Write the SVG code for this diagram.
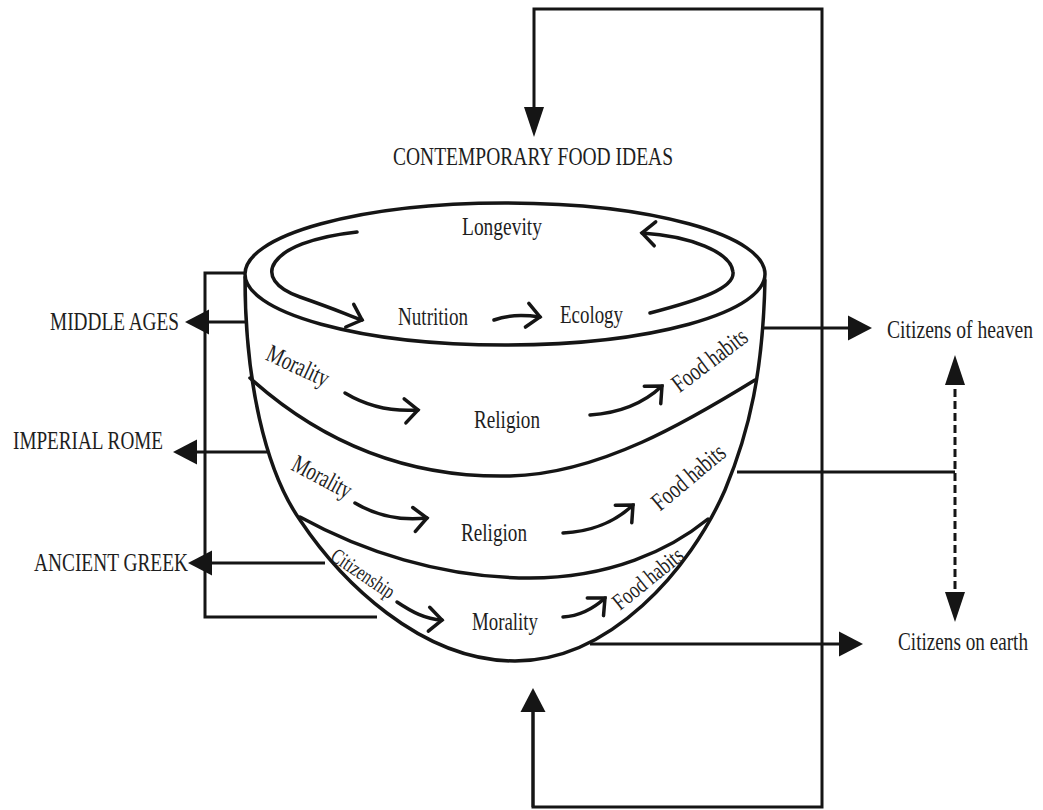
<svg xmlns="http://www.w3.org/2000/svg" width="1043" height="810" viewBox="0 0 1043 810">
<style>
.ln{fill:none;stroke:#151515;stroke-width:3.5;stroke-linejoin:round;stroke-linecap:round}
.cn{fill:none;stroke:#151515;stroke-width:3;stroke-linejoin:miter}
.ca{fill:none;stroke:#151515;stroke-width:3.5;stroke-linecap:round;marker-end:url(#chev)}
.t{font-family:"Liberation Serif","Times New Roman",serif;font-size:19.5px;fill:#1e1e1e}
</style>
<defs>
<marker id="chev" markerUnits="userSpaceOnUse" markerWidth="40" markerHeight="40" viewBox="-20 -20 40 40" refX="0" refY="0" orient="auto" overflow="visible">
<path d="M-13,-12 L0,0 L-13,12" fill="none" stroke="#151515" stroke-width="3.5" stroke-linecap="round" stroke-linejoin="miter"/>
</marker>
<marker id="tri" markerUnits="userSpaceOnUse" markerWidth="40" markerHeight="40" viewBox="0 -20 40 40" refX="14" refY="0" orient="auto-start-reverse" overflow="visible">
<path d="M0,-12.5 L24,0 L0,12.5 Z" fill="#151515"/>
</marker>
<marker id="triv" markerUnits="userSpaceOnUse" markerWidth="40" markerHeight="40" viewBox="0 -20 40 40" refX="20" refY="0" orient="auto-start-reverse" overflow="visible">
<path d="M0,-10 L30,0 L0,10 Z" fill="#151515"/>
</marker>
</defs>
<rect width="1043" height="810" fill="#fff"/>

<g id="bowl">
<path class="ln" d="M245,277 C245,380 265,470 300,520 C340,580 420,661 515,661 C610,661 690,570 725,490 C750,430 763,370 765,280"/>
<ellipse class="ln" cx="505" cy="274" rx="260" ry="71"/>
<path class="ln" d="M250,378 C330,450 420,478 510,476 C600,474 690,420 755,380"/>
<path class="ln" d="M300,517 C360,550 440,578 530,578 C610,578 670,550 708,519"/>
</g>

<g id="ring-arrows">
<path class="ca" d="M357,232 C265,242 250,280 300,297 C340,311 345,314 362,320"/>
<path class="ca" d="M650,313 C700,300 735,288 733,272 C731,252 690,236 642,233"/>
<path class="ca" d="M494,320 Q512,313 540,317"/>
<path class="ca" d="M345,393 C365,405 390,412 418,410"/>
<path class="ca" d="M590,415 C620,413 645,402 662,386"/>
<path class="ca" d="M355,503 C375,515 400,521 427,518"/>
<path class="ca" d="M563,533 C590,532 615,522 633,505"/>
<path class="ca" d="M397,602 C412,612 425,619 442,620"/>
<path class="ca" d="M563,617 C580,616 593,609 605,598"/>
</g>

<g id="connectors">
<path class="cn" d="M534,127 L534,9 L822,9 L822,807 L533,807 L533,698" style="marker-start:url(#triv)"/>
<path class="cn" d="M533,807 L533,698" style="marker-end:url(#tri)"/>
<path class="cn" d="M245,273 L205,273 L205,617 L377,617"/>
<path class="cn" d="M246,322 L195,322" style="marker-end:url(#tri)"/>
<path class="cn" d="M267,452 L183,452" style="marker-end:url(#tri)"/>
<path class="cn" d="M325,563 L198,563" style="marker-end:url(#tri)"/>
<path class="cn" d="M764,328 L862,328" style="marker-end:url(#tri)"/>
<path class="cn" d="M590,644 L853,644" style="marker-end:url(#tri)"/>
<path class="cn" d="M737,472 L955,472"/>
<path class="cn" d="M955,365 L955,612" stroke-dasharray="8,4" style="marker-start:url(#triv);marker-end:url(#triv)"/>
</g>

<g id="contemporary"><text class="t" transform="translate(393,165) scale(1,1.3)" textLength="280" lengthAdjust="spacingAndGlyphs">CONTEMPORARY FOOD IDEAS</text></g>
<g id="longevity"><text class="t" transform="translate(462,235) scale(1,1.3)" textLength="80" lengthAdjust="spacingAndGlyphs">Longevity</text></g>
<g id="nutrition"><text class="t" transform="translate(398,325) scale(1,1.3)" textLength="70" lengthAdjust="spacingAndGlyphs">Nutrition</text></g>
<g id="ecology"><text class="t" transform="translate(560,323) scale(1,1.3)" textLength="63" lengthAdjust="spacingAndGlyphs">Ecology</text></g>

<g id="mid-morality"><text class="t" transform="translate(297,368) rotate(25) scale(1,1.3)" y="4.5" text-anchor="middle" textLength="66" lengthAdjust="spacingAndGlyphs">Morality</text></g>
<g id="mid-religion"><text class="t" transform="translate(474,428) scale(1,1.3)" textLength="66" lengthAdjust="spacingAndGlyphs">Religion</text></g>
<g id="mid-food"><text class="t" transform="translate(711,362) rotate(-37) scale(1,1.3)" y="4.5" text-anchor="middle" textLength="88" lengthAdjust="spacingAndGlyphs">Food habits</text></g>

<g id="rome-morality"><text class="t" transform="translate(321,479) rotate(28) scale(1,1.3)" y="4.5" text-anchor="middle" textLength="64" lengthAdjust="spacingAndGlyphs">Morality</text></g>
<g id="rome-religion"><text class="t" transform="translate(461,541) scale(1,1.3)" textLength="66" lengthAdjust="spacingAndGlyphs">Religion</text></g>
<g id="rome-food"><text class="t" transform="translate(690,479) rotate(-40) scale(1,1.3)" y="4.5" text-anchor="middle" textLength="88" lengthAdjust="spacingAndGlyphs">Food habits</text></g>

<g id="greek-citizenship"><text class="t" style="font-size:16.5px" transform="translate(362,575) rotate(34) scale(1,1.3)" y="4" text-anchor="middle" textLength="72" lengthAdjust="spacingAndGlyphs">Citizenship</text></g>
<g id="greek-morality"><text class="t" transform="translate(472,630) scale(1,1.3)" textLength="66" lengthAdjust="spacingAndGlyphs">Morality</text></g>
<g id="greek-food"><text class="t" style="font-size:18px" transform="translate(649,580) rotate(-39) scale(1,1.3)" y="4.5" text-anchor="middle" textLength="84" lengthAdjust="spacingAndGlyphs">Food habits</text></g>

<g id="middle-ages"><text class="t" transform="translate(50,330) scale(1,1.3)" textLength="129" lengthAdjust="spacingAndGlyphs">MIDDLE AGES</text></g>
<g id="imperial-rome"><text class="t" transform="translate(13,449) scale(1,1.3)" textLength="150" lengthAdjust="spacingAndGlyphs">IMPERIAL ROME</text></g>
<g id="ancient-greek"><text class="t" transform="translate(34,571) scale(1,1.3)" textLength="154" lengthAdjust="spacingAndGlyphs">ANCIENT GREEK</text></g>
<g id="citizens-heaven"><text class="t" transform="translate(887,338) scale(1,1.3)" textLength="146" lengthAdjust="spacingAndGlyphs">Citizens of heaven</text></g>
<g id="citizens-earth"><text class="t" transform="translate(898,650) scale(1,1.3)" textLength="130" lengthAdjust="spacingAndGlyphs">Citizens on earth</text></g>
</svg>
